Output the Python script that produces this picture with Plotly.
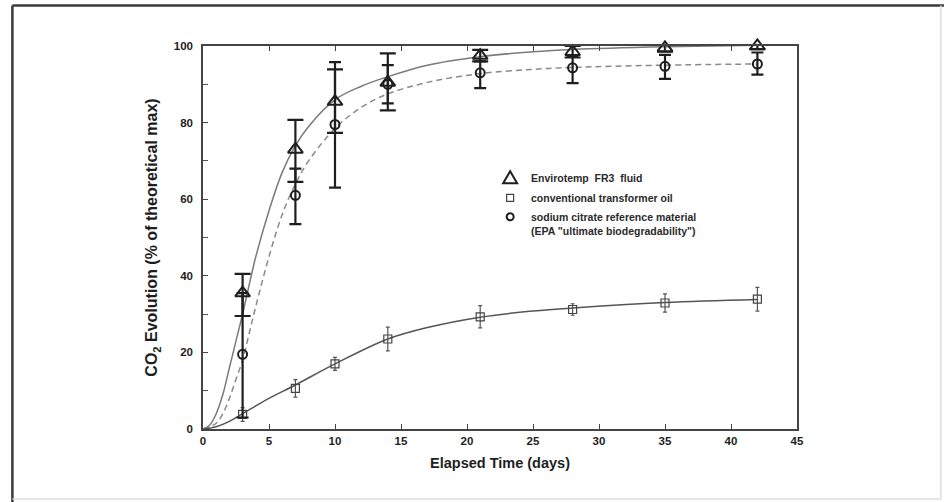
import plotly.graph_objects as go

# ---- data ----
days = [3, 7, 10, 14, 21, 28, 35, 42]

fr3_y = [35.5, 73.0, 85.5, 90.5, 97.5, 98.5, 99.5, 100.0]
fr3_err_plus = [5.0, 7.7, 8.4, 7.6, 1.5, 1.5, 1.0, 0.8]
fr3_err_minus = [6.0, 8.5, 8.2, 7.3, 1.5, 1.5, 1.0, 0.8]

citrate_y = [19.5, 61.0, 79.5, 90.0, 93.0, 94.3, 94.7, 95.3]
citrate_err_plus = [16.0, 7.0, 16.3, 5.0, 3.0, 3.0, 3.0, 3.0]
citrate_err_minus = [16.5, 7.5, 16.5, 5.0, 4.0, 4.0, 3.3, 2.8]

oil_y = [3.8, 10.6, 17.0, 23.5, 29.3, 31.2, 32.9, 33.9]
oil_err = [1.8, 2.3, 1.7, 3.1, 2.9, 1.5, 2.4, 3.1]

# fitted curves
fr3_curve_x = [0, 0.5, 1, 1.5, 2, 2.5, 3, 4, 5, 6, 7, 8, 10, 12, 14, 17, 21, 25, 28, 35, 42]
fr3_curve_y = [0, 1, 4, 9, 16, 23, 30, 45, 57, 67, 74, 79, 86, 89.5, 92, 95, 97.2, 98.5, 99.1, 99.8, 100.2]

cit_curve_x = [0, 1, 1.5, 2, 2.5, 3, 3.5, 4, 5, 6, 7, 8, 10, 12, 14, 17, 21, 25, 28, 35, 42]
cit_curve_y = [0, 1.5, 4, 8, 13, 18, 25, 32, 45, 56, 64, 70, 78.5, 84, 87.5, 90.5, 92.8, 93.9, 94.4, 95, 95.3]

oil_curve_x = [0, 1, 2, 3, 5, 7, 10, 14, 17, 21, 25, 28, 35, 42]
oil_curve_y = [0, 0.6, 2, 4, 8, 11.5, 17, 23.5, 26.5, 29.2, 30.8, 31.6, 33, 33.8]

x_ticks = [0, 5, 10, 15, 20, 25, 30, 35, 40, 45]
y_ticks = [0, 20, 40, 60, 80, 100]

legend_labels = [
    "Envirotemp&nbsp;&nbsp;FR3&nbsp;&nbsp;fluid",
    "conventional transformer oil",
    "sodium citrate reference material",
    "(EPA \"ultimate biodegradability\")",
]

FONT = "Liberation Sans, Arial, sans-serif"
INK = "#1e1e1e"

fig = go.Figure()

# curves
fig.add_trace(go.Scatter(x=fr3_curve_x, y=fr3_curve_y, mode="lines",
                         line=dict(color="#7a7a7a", width=1.5, shape="spline"),
                         showlegend=False, hoverinfo="skip"))
fig.add_trace(go.Scatter(x=cit_curve_x, y=cit_curve_y, mode="lines",
                         line=dict(color="#8a8a8a", width=1.5, dash="6px,4px", shape="spline"),
                         showlegend=False, hoverinfo="skip"))
fig.add_trace(go.Scatter(x=oil_curve_x, y=oil_curve_y, mode="lines",
                         line=dict(color="#555555", width=1.5, shape="spline"),
                         showlegend=False, hoverinfo="skip"))

# points with error bars
fig.add_trace(go.Scatter(
    x=days, y=oil_y, mode="markers", cliponaxis=False,
    marker=dict(symbol="square-open", size=8, color="#444", line=dict(width=1.2)),
    error_y=dict(type="data", array=oil_err, symmetric=True,
                 color="#555", thickness=1.2, width=2),
    showlegend=False))
fig.add_trace(go.Scatter(
    x=days, y=citrate_y, mode="markers", cliponaxis=False,
    marker=dict(symbol="circle-open", size=9, color=INK, line=dict(width=2)),
    error_y=dict(type="data", array=citrate_err_plus, arrayminus=citrate_err_minus,
                 color=INK, thickness=2.2, width=6),
    showlegend=False))
fig.add_trace(go.Scatter(
    x=days, y=fr3_y, mode="markers", cliponaxis=False,
    marker=dict(symbol="triangle-up-open", size=13, color=INK, line=dict(width=2)),
    error_y=dict(type="data", array=fr3_err_plus, arrayminus=fr3_err_minus,
                 color=INK, thickness=2.2, width=8),
    showlegend=False))

# plot-area geometry in pixels (for paper conversion of frame/legend)
L, R, T, B = 202.7, 797.0, 45.5, 429.0
W, H = R - L, B - T


def px(xp):
    return (xp - L) / W


def py(yp):
    return (B - yp) / H


shapes = []
# outer frame
shapes.append(dict(type="line", xref="paper", yref="paper", x0=px(12), x1=px(944), y0=py(5), y1=py(5),
                   line=dict(color="#3a3a3a", width=2.5)))
shapes.append(dict(type="line", xref="paper", yref="paper", x0=px(12), x1=px(12), y0=py(5), y1=py(502),
                   line=dict(color="#3a3a3a", width=2.5)))
shapes.append(dict(type="line", xref="paper", yref="paper", x0=px(941), x1=px(941), y0=py(5), y1=py(499),
                   line=dict(color="#dddddd", width=1.5)))
shapes.append(dict(type="line", xref="paper", yref="paper", x0=px(12), x1=px(941), y0=py(499), y1=py(499),
                   line=dict(color="#dddddd", width=1.5)))

# legend symbols
shapes.append(dict(type="path", xref="paper", yref="paper", xsizemode="pixel", ysizemode="pixel",
                   xanchor=px(510), yanchor=py(177),
                   path="M -7 -6 L 7 -6 L 0 6 Z",
                   line=dict(color=INK, width=2)))
shapes.append(dict(type="rect", xref="paper", yref="paper", xsizemode="pixel", ysizemode="pixel",
                   xanchor=px(510), yanchor=py(197.5), x0=-3.5, x1=3.5, y0=-3.5, y1=3.5,
                   line=dict(color="#444", width=1.2)))
shapes.append(dict(type="circle", xref="paper", yref="paper", xsizemode="pixel", ysizemode="pixel",
                   xanchor=px(510), yanchor=py(216.5), x0=-3.5, x1=3.5, y0=-3.5, y1=3.5,
                   line=dict(color=INK, width=2)))

annotations = []
for lbl, yp in zip(legend_labels, [178, 198, 216.5, 231]):
    annotations.append(dict(text="<b>" + lbl + "</b>", xref="paper", yref="paper",
                            x=px(529), y=py(yp), xanchor="left", yanchor="middle",
                            showarrow=False, font=dict(family=FONT, size=10.5, color="#2a2a2a")))

fig.update_layout(
    width=944, height=502,
    margin=dict(l=L, r=944 - R, t=T, b=502 - B),
    paper_bgcolor="white", plot_bgcolor="white",
    shapes=shapes, annotations=annotations,
    font=dict(family=FONT, color=INK),
    xaxis=dict(range=[0, 45], tickvals=x_ticks, ticktext=["<b>%d</b>" % v for v in x_ticks],
               ticks="inside", ticklen=5, tickwidth=1.2, tickcolor="#444",
               showline=True, linecolor="#444", linewidth=1.5, mirror="ticks",
               showgrid=False, zeroline=False,
               tickfont=dict(family=FONT, size=11.5, color=INK),
               title=dict(text="<b>Elapsed Time (days)</b>", font=dict(family=FONT, size=14.5, color=INK),
                          standoff=12)),
    yaxis=dict(range=[0, 100], tickvals=y_ticks, ticktext=["<b>%d</b>" % v for v in y_ticks],
               ticks="inside", ticklen=5, tickwidth=1.2, tickcolor="#444",
               minor=dict(dtick=10, ticks="inside", ticklen=5, tickcolor="#555", tickwidth=1),
               showline=True, linecolor="#444", linewidth=1.5, mirror=True,
               showgrid=False, zeroline=False, ticklabelstandoff=6,
               tickfont=dict(family=FONT, size=11.5, color=INK),
               title=dict(text="<b>CO<sub>2</sub> Evolution (% of theoretical max)</b>",
                          font=dict(family=FONT, size=16, color=INK), standoff=12)),
)

fig.write_html("out.html")
